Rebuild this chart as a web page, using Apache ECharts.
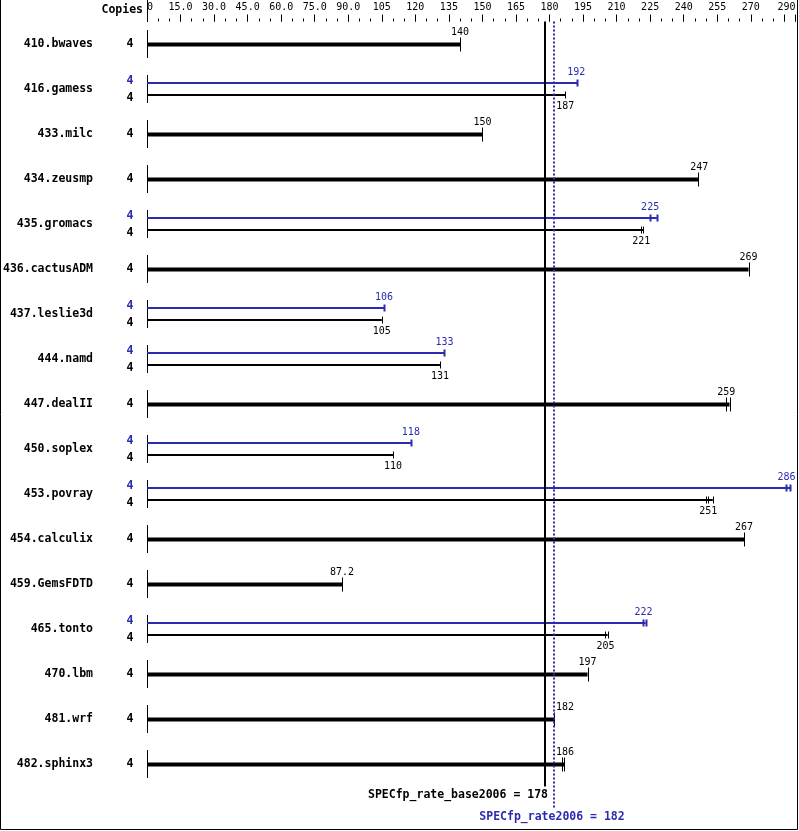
<!DOCTYPE html>
<html>
<head>
<meta charset="utf-8">
<script src="https://cdn.jsdelivr.net/npm/echarts@6/dist/echarts.min.js"></script>
<style>
html,body{margin:0;padding:0;background:#fff;}
#chart{width:799px;height:831px;}
</style>
</head>
<body>
<div id="chart"></div>
<script>
const benchmarks = ['410.bwaves','416.gamess','433.milc','434.zeusmp','435.gromacs','436.cactusADM','437.leslie3d','444.namd','447.dealII','450.soplex','453.povray','454.calculix','459.GemsFDTD','465.tonto','470.lbm','481.wrf','482.sphinx3'];
const copies = [4,4,4,4,4,4,4,4,4,4,4,4,4,4,4,4,4];
const baseValues = [140,187,150,247,221,269,105,131,259,110,251,267,87.2,205,197,182,186];
const peakValues = [null,192,null,null,225,null,106,133,null,118,286,null,null,222,null,null,null];
const baseRuns = [[140],[187],[150],[246.5],[221,222],[269],[105],[131],[259,260.5],[110],[250,251,253],[267],[87.2],[205,206],[197],[182],[185.8,186.7]];
const peakRuns = [null,[192.5],null,null,[225,228],null,[106],[133],null,[118],[285.8,287.5],null,null,[222,223],null,null,null];
const tickLabels = ['0','15.0','30.0','45.0','60.0','75.0','90.0','105','120','135','150','165','180','195','210','225','240','255','270',''];
const maxLabel = '290';
const baseScore = 178;
const peakScore = 182;
const baseLabel = 'SPECfp_rate_base2006 = 178';
const peakLabel = 'SPECfp_rate2006 = 182';

const BLUE = '#2b2bb0';
const BLACK = '#000000';
const MONO = '"DejaVu Sans Mono", "Liberation Mono", monospace';
const fBold = 'bold 11.5px ' + MONO;
const fVal = '10px ' + MONO;

function txt(x, y, text, fill, font, align, valign) {
  return {type:'text', silent:true, style:{x:x, y:y, text:text, fill:fill, font:font,
    align:align, verticalAlign:valign||'middle', textAlign:align, textVerticalAlign:valign||'middle'}};
}
function ln(x1, y1, x2, y2, stroke, w, dash) {
  const s = {stroke:stroke, lineWidth:w};
  if (dash) s.lineDash = dash;
  return {type:'line', silent:true, shape:{x1:x1,y1:y1,x2:x2,y2:y2}, style:s};
}
function fmt(v){ return String(v); }

function renderRow(params, api) {
  const i = api.value(1);
  const p0 = api.coord([0, i]);
  const x0 = Math.round(p0[0]);
  const c = Math.round(p0[1]);
  const X = v => api.coord([v, i])[0];
  const xb = X(baseScore), xp = X(peakScore);
  const ch = [];
  ch.push(ln(x0 + 0.5, c - 14, x0 + 0.5, c + 14, BLACK, 1));
  ch.push(txt(93, c, benchmarks[i], BLACK, fBold, 'right'));
  function bar(y, runs, val, color, w, th, labelY, tickW) {
    const xe = X(Math.max.apply(null, runs));
    ch.push(ln(x0, y, xe, y, color, w));
    runs.forEach(r => { const xr = Math.round(X(r)) + 0.5; ch.push(ln(xr, y - th, xr, y + th, color, tickW)); });
    const s = fmt(val);
    const half = s.length * 3;
    let lx = X(val);
    if (lx - half < xp + 2 && lx + half > xb - 2) lx = xp + 2 + half;
    ch.push(txt(lx, labelY, s, color, fVal, 'center'));
  }
  if (peakRuns[i]) {
    bar(c - 6, peakRuns[i], peakValues[i], BLUE, 2, 3.5, c - 17, 2);
    bar(c + 6, baseRuns[i], baseValues[i], BLACK, 2, 3.5, c + 17, 1);
    ch.push(txt(130, c - 8, String(copies[i]), BLUE, fBold, 'center'));
    ch.push(txt(130, c + 9, String(copies[i]), BLACK, fBold, 'center'));
  } else {
    bar(c + 0.5, baseRuns[i], baseValues[i], BLACK, 4, 7, c - 12, 1);
    ch.push(txt(130, c, String(copies[i]), BLACK, fBold, 'center'));
  }
  return {type:'group', children:ch};
}

function renderSummary(params, api) {
  const cs = params.coordSys;
  const xb = Math.round(api.coord([baseScore, 0])[0]);
  const xp = Math.round(api.coord([peakScore, 0])[0]);
  const top = cs.y;
  const bot = cs.y + cs.height;
  return {type:'group', children:[
    ln(xb, top, xb, bot, BLACK, 2),
    ln(xp, top, xp, bot + 22, BLUE, 2, [2, 2]),
    txt(xb + 3, bot + 9, baseLabel, BLACK, fBold, 'right'),
    txt(xp - 2, bot + 31, peakLabel, BLUE, fBold, 'center')
  ]};
}

const chart = echarts.init(document.getElementById('chart'), null, {renderer:'canvas'});
const option = {
  animation:false,
  backgroundColor:'#ffffff',
  grid:{left:147, right:3.5, top:21.5, bottom:44.5, containLabel:false},
  xAxis:[
    {type:'value', position:'top', min:0, max:290, interval:15,
     axisLine:{show:false}, splitLine:{show:false},
     axisTick:{show:true, length:7, lineStyle:{color:BLACK, width:1}},
     axisLabel:{show:true, margin:9, color:BLACK, fontFamily:'DejaVu Sans Mono', fontSize:10,
       alignMinLabel:'left', alignMaxLabel:'right', showMinLabel:true, showMaxLabel:true,
       formatter:function(v){ if (Math.abs(v-290)<1e-6) return maxLabel; const k=Math.round(v/15); return tickLabels[k]!==undefined?tickLabels[k]:''; }}},
    {type:'value', position:'top', min:0, max:290, interval:5,
     axisLine:{show:false}, splitLine:{show:false},
     axisTick:{show:true, length:3, lineStyle:{color:BLACK, width:1}},
     axisLabel:{show:false}}
  ],
  yAxis:{type:'category', inverse:true, data:benchmarks, show:false},
  graphic:[
    {type:'text', silent:true, style:{x:143, y:10, text:'Copies', fill:BLACK, font:fBold, align:'right', verticalAlign:'middle', textAlign:'right', textVerticalAlign:'middle'}},
    {type:'line', silent:true, shape:{x1:147.5, y1:0, x2:147.5, y2:22}, style:{stroke:BLACK, lineWidth:1}},
    {type:'polyline', silent:true, shape:{points:[[0.5,0],[0.5,829.5],[797.5,829.5],[797.5,0]]}, style:{stroke:BLACK, lineWidth:1, fill:null}}
  ],
  series:[
    {type:'custom', xAxisIndex:0, yAxisIndex:0, renderItem:renderRow, clip:false,
     data:benchmarks.map((b,i)=>[0,i])},
    {type:'custom', xAxisIndex:0, yAxisIndex:0, renderItem:renderSummary, clip:false,
     data:[[0,0]]}
  ]
};
chart.setOption(option);
</script>
</body>
</html>
